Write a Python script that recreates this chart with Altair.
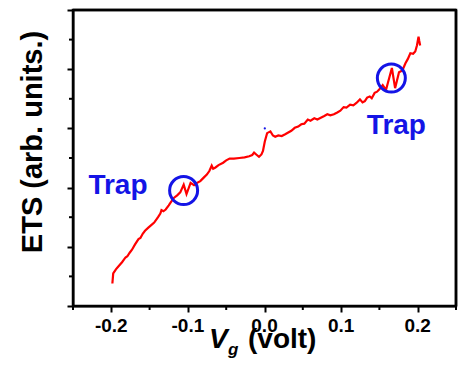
import altair as alt
import pandas as pd

vg = [-0.1986, -0.1975, -0.1940, -0.1900, -0.1860, -0.1815, -0.1790, -0.1760, -0.1730, -0.1690,
      -0.1645, -0.1620, -0.1590, -0.1560, -0.1520, -0.1475, -0.1440, -0.1390, -0.1360, -0.1345,
      -0.1320, -0.1290, -0.1250, -0.1220, -0.1180, -0.1140, -0.1100, -0.1055, -0.1018, -0.0965,
      -0.0920, -0.0880, -0.0838, -0.0800, -0.0753, -0.0720, -0.0689, -0.0670, -0.0640, -0.0600,
      -0.0540, -0.0500, -0.0455, -0.0400, -0.0328, -0.0260, -0.0200, -0.0160, -0.0136, -0.0100,
      -0.0072, -0.0040, -0.0020, 0.0004, 0.0034, 0.0077, 0.0110, 0.0140, 0.0180, 0.0225,
      0.0270, 0.0310, 0.0350, 0.0395, 0.0440, 0.0480, 0.0520, 0.0565, 0.0600, 0.0650,
      0.0690, 0.0735, 0.0780, 0.0820, 0.0860, 0.0906, 0.0950, 0.0990, 0.1033, 0.1070,
      0.1118, 0.1160, 0.1200, 0.1246, 0.1280, 0.1310, 0.1340, 0.1374, 0.1400, 0.1438,
      0.1470, 0.1500, 0.1543, 0.1586, 0.1663, 0.1705, 0.1756, 0.1800, 0.1840, 0.1870,
      0.1904, 0.1940, 0.1968, 0.1990, 0.2011, 0.2020, 0.2032]
ets = [0.38, 0.55, 0.62, 0.68, 0.74, 0.82, 0.84, 0.90, 0.95, 1.04,
       1.13, 1.15, 1.22, 1.27, 1.32, 1.37, 1.41, 1.50, 1.56, 1.62,
       1.60, 1.63, 1.70, 1.76, 1.83, 1.87, 1.92, 2.05, 1.89, 2.08,
       2.04, 2.08, 2.11, 2.16, 2.22, 2.28, 2.37, 2.32, 2.34, 2.38,
       2.42, 2.46, 2.49, 2.49, 2.50, 2.51, 2.53, 2.55, 2.59, 2.55,
       2.52, 2.56, 2.62, 2.78, 2.92, 2.95, 2.88, 2.86, 2.88, 2.87,
       2.90, 2.93, 2.96, 3.01, 3.03, 3.07, 3.08, 3.15, 3.13, 3.17,
       3.15, 3.18, 3.21, 3.24, 3.22, 3.24, 3.27, 3.30, 3.36, 3.35,
       3.40, 3.39, 3.43, 3.49, 3.44, 3.46, 3.52, 3.54, 3.51, 3.60,
       3.62, 3.66, 3.73, 3.65, 4.02, 3.68, 3.95, 3.98, 4.10, 4.17,
       4.27, 4.26, 4.30, 4.40, 4.55, 4.48, 4.40]

trap_x = [-0.1056, 0.1656]
trap_y = [1.95, 3.85]
label_x = [-0.1913, 0.1722]
label_y = [1.89, 2.91]
label_text = ["Trap", "Trap"]
dot_x = [0.0004]
dot_y = [3.0]

x_major = [-0.2, -0.1, 0.0, 0.1, 0.2]
x_major_labels = ["-0.2", "-0.1", "0.0", "0.1", "0.2"]
x_minor = [-0.25, -0.15, -0.05, 0.05, 0.15, 0.25]
y_major = [0, 1, 2, 3, 4, 5]
y_minor = [0.5, 1.5, 2.5, 3.5, 4.5]

# frame (top and right edges of the plot box), in data units
frame_x = [-0.25, 0.25]
frame_x2 = [0.25, 0.25]
frame_y = [5.0, 0.0]
frame_y2 = [5.0, 5.0]

FONT = "Liberation Sans"
BLUE = "#1414e6"
W, H = 383, 296

df = pd.DataFrame({"vg": vg, "ets": ets})
traps = pd.DataFrame({"x": trap_x, "y": trap_y})
labels = pd.DataFrame({"x": label_x, "y": label_y, "t": label_text})
dots = pd.DataFrame({"x": dot_x, "y": dot_y})
xmin_df = pd.DataFrame({"x": x_minor})
ymin_df = pd.DataFrame({"y": y_minor})
xlab_df = pd.DataFrame({"x": x_major, "t": x_major_labels})
frame_df = pd.DataFrame({"x": frame_x, "x2": frame_x2, "y": frame_y, "y2": frame_y2})

xscale = alt.Scale(domain=[-0.25, 0.25], nice=False, zero=False)
yscale = alt.Scale(domain=[0, 5], nice=False, zero=False)

xaxis = alt.Axis(
    values=x_major, title=None, grid=False, labels=False,
    tickSize=6, tickWidth=2, tickColor="black", domainColor="black", domainWidth=2,
)
yaxis = alt.Axis(
    values=y_major, title=None, grid=False, labels=False,
    tickSize=6, tickWidth=2, tickColor="black", domainColor="black", domainWidth=2,
)

line = alt.Chart(df).mark_line(color="#ff0000", strokeWidth=2.2).encode(
    x=alt.X("vg:Q", scale=xscale, axis=xaxis),
    y=alt.Y("ets:Q", scale=yscale, axis=yaxis),
    order="vg:Q",
)

frame = alt.Chart(frame_df).mark_rule(color="black", strokeWidth=2.5).encode(
    x=alt.X("x:Q", scale=xscale), x2="x2:Q",
    y=alt.Y("y:Q", scale=yscale), y2="y2:Q")

xminor = alt.Chart(xmin_df).mark_rule(color="black", strokeWidth=2).encode(
    x=alt.X("x:Q", scale=xscale), y=alt.value(H), y2=alt.value(H + 4))
yminor = alt.Chart(ymin_df).mark_rule(color="black", strokeWidth=2).encode(
    y=alt.Y("y:Q", scale=yscale), x=alt.value(-4), x2=alt.value(0))

xlabels = alt.Chart(xlab_df).mark_text(font=FONT, fontSize=19, fontWeight="bold", color="black",
                                        align="center", baseline="alphabetic").encode(
    x=alt.X("x:Q", scale=xscale), y=alt.value(322), text="t:N")

circles = alt.Chart(traps).mark_point(shape="circle", filled=False, size=784,
                                       strokeWidth=3, color=BLUE, opacity=1).encode(
    x=alt.X("x:Q", scale=xscale), y=alt.Y("y:Q", scale=yscale))

dot = alt.Chart(dots).mark_point(shape="circle", filled=True, size=5, color=BLUE, opacity=1).encode(
    x=alt.X("x:Q", scale=xscale), y=alt.Y("y:Q", scale=yscale))

trap_text = alt.Chart(labels).mark_text(font=FONT, fontSize=28, fontWeight="bold", color=BLUE,
                                         align="center", baseline="alphabetic").encode(
    x=alt.X("x:Q", scale=xscale), y=alt.Y("y:Q", scale=yscale), text="t:N")

one = alt.Data(values=[{}])
t_v = alt.Chart(one).mark_text(text="V", font=FONT, fontSize=28, fontWeight="bold", fontStyle="italic",
                               align="left", baseline="alphabetic", color="black").encode(
    x=alt.value(136), y=alt.value(338))
t_g = alt.Chart(one).mark_text(text="g", font=FONT, fontSize=17, fontWeight="bold", fontStyle="italic",
                               align="left", baseline="alphabetic", color="black").encode(
    x=alt.value(155), y=alt.value(345))
t_volt = alt.Chart(one).mark_text(text="(volt)", font=FONT, fontSize=28, fontWeight="bold",
                                  align="left", baseline="alphabetic", color="black").encode(
    x=alt.value(175), y=alt.value(338))
t_y = alt.Chart(one).mark_text(text="ETS (arb. units.)", font=FONT, fontSize=29, fontWeight="bold",
                               align="center", baseline="alphabetic", angle=270, color="black").encode(
    x=alt.value(-31), y=alt.value(132))

chart = alt.layer(line, frame, xminor, yminor, xlabels, circles, dot,
                  trap_text, t_v, t_g, t_volt, t_y).properties(
    width=W, height=H,
    padding={"left": 65, "top": 2, "right": 2, "bottom": 52},
    autosize=alt.AutoSizeParams(type="none"),
    background="white",
).configure_view(stroke="black", strokeWidth=2.5)

chart.save("out.html", embed_options={"renderer": "svg", "actions": False})
